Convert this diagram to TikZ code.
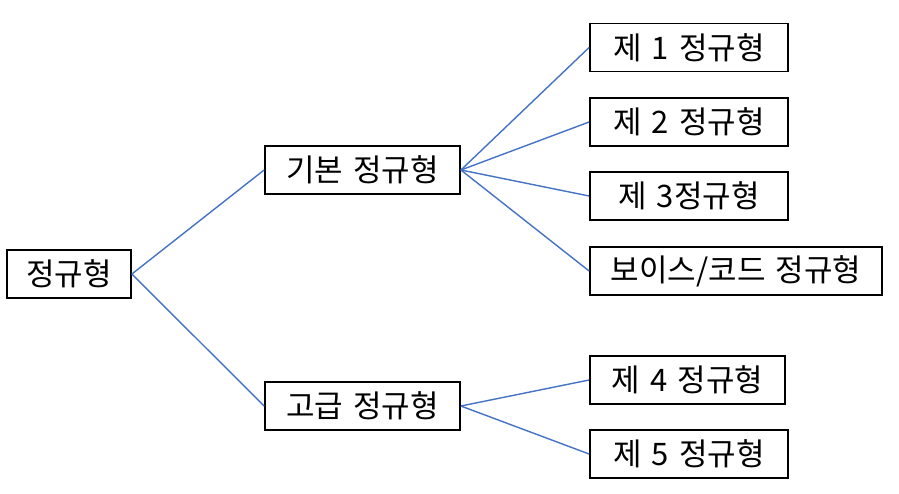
\documentclass[tikz,border=0pt]{standalone}
\usepackage{fontspec}
\setmainfont{Noto Sans CJK KR}
\begin{document}
\begin{tikzpicture}[x=1pt,y=-1pt,
  box/.style={draw=black,line width=1.8pt,inner sep=0pt,minimum height=48pt,font=\fontsize{31}{36}\selectfont},
  link/.style={color={rgb,255:red,68;green,114;blue,196},line width=1.4pt}]
\useasboundingbox (0,0) rectangle (899,493);
\node[box,minimum width=124pt] (root) at (69,274) {정규형};
\node[box,minimum width=195pt] (basic) at (362.5,170) {기본\hspace{0.1em} 정규형};
\node[box,minimum width=195pt] (adv) at (362.5,406) {고급\hspace{0.1em} 정규형};
\node[box,minimum width=198pt] (n1) at (689,47.5) {제\hspace{0.1em} 1\hspace{0.1em} 정규형};
\node[box,minimum width=198pt] (n2) at (689,122) {제\hspace{0.1em} 2\hspace{0.1em} 정규형};
\node[box,minimum width=198pt] (n3) at (689,196) {제\hspace{0.1em} 3정규형};
\node[box,minimum width=292pt] (bc) at (736,271) {보이스/코드\hspace{0.1em} 정규형};
\node[box,minimum width=195pt] (n4) at (687.5,380) {제\hspace{0.1em} 4\hspace{0.1em} 정규형};
\node[box,minimum width=198pt] (n5) at (689,454) {제\hspace{0.1em} 5\hspace{0.1em} 정규형};
\draw[link] (root.east) -- (basic.west);
\draw[link] (root.east) -- (adv.west);
\draw[link] (basic.east) -- (n1.west);
\draw[link] (basic.east) -- (n2.west);
\draw[link] (basic.east) -- (n3.west);
\draw[link] (basic.east) -- (bc.west);
\draw[link] (adv.east) -- (n4.west);
\draw[link] (adv.east) -- (n5.west);
\end{tikzpicture}
\end{document}
